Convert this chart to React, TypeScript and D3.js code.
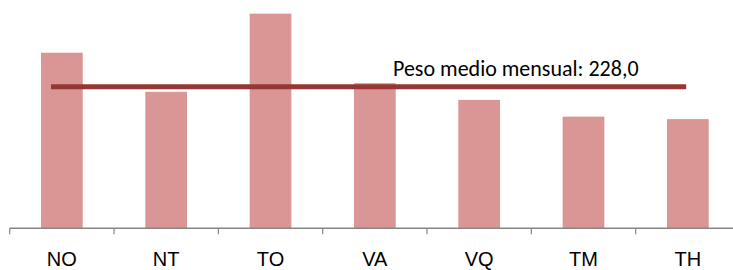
import React from "react";
import * as d3 from "d3";

const categories = ["NO", "NT", "TO", "VA", "VQ", "TM", "TH"];
const pesos = [283, 220, 346, 234, 207, 180, 176];
const pesoMedio = 228.0;
const meanLabel = "Peso medio mensual: 228,0";

const width = 733;
const height = 270;
const axisY = 228.3;

const App = () => {
  const x = d3
    .scaleBand<string>()
    .domain(categories)
    .range([9.7, 740])
    .paddingInner(0.6)
    .paddingOuter(0.3);

  const step = x.step();
  const y = d3.scaleLinear().domain([0, 368]).range([axisY, 0]);

  const bounds = d3.range(categories.length + 1).map((i) => 9.7 + i * step);

  const meanY = y(pesoMedio);
  const bw = x.bandwidth();
  const lineX1 = (x("NO") as number) + bw * 0.24;
  const lineX2 = (x("TH") as number) + bw * 0.46;

  return (
    <svg
      width={width}
      height={height}
      style={{ position: "absolute", left: 0, top: 0, background: "#fff" }}
    >
      {categories.map((c, i) => (
        <rect
          key={c}
          x={x(c)}
          y={y(pesos[i])}
          width={bw}
          height={axisY - y(pesos[i])}
          fill="#D99694"
        />
      ))}

      <line x1={9.7} x2={740} y1={axisY} y2={axisY} stroke="#868686" strokeWidth={1.5} />
      {bounds.map((b, i) => (
        <line key={i} x1={b} x2={b} y1={axisY} y2={axisY + 6} stroke="#868686" strokeWidth={1.2} />
      ))}

      {categories.map((c) => (
        <text
          key={c}
          x={(x(c) as number) + bw / 2}
          y={266}
          textAnchor="middle"
          fontFamily="'Liberation Sans', Arial, sans-serif"
          fontSize={20}
          fill="#000"
        >
          {c}
        </text>
      ))}

      <line
        x1={lineX1}
        x2={lineX2}
        y1={meanY}
        y2={meanY}
        stroke="#953735"
        strokeWidth={5}
      />
      <text
        x={393}
        y={meanY - 11}
        fontFamily="Calibri, Carlito, Lato, sans-serif"
        fontSize={22}
        fill="#000"
      >
        {meanLabel}
      </text>
    </svg>
  );
};

export default App;
